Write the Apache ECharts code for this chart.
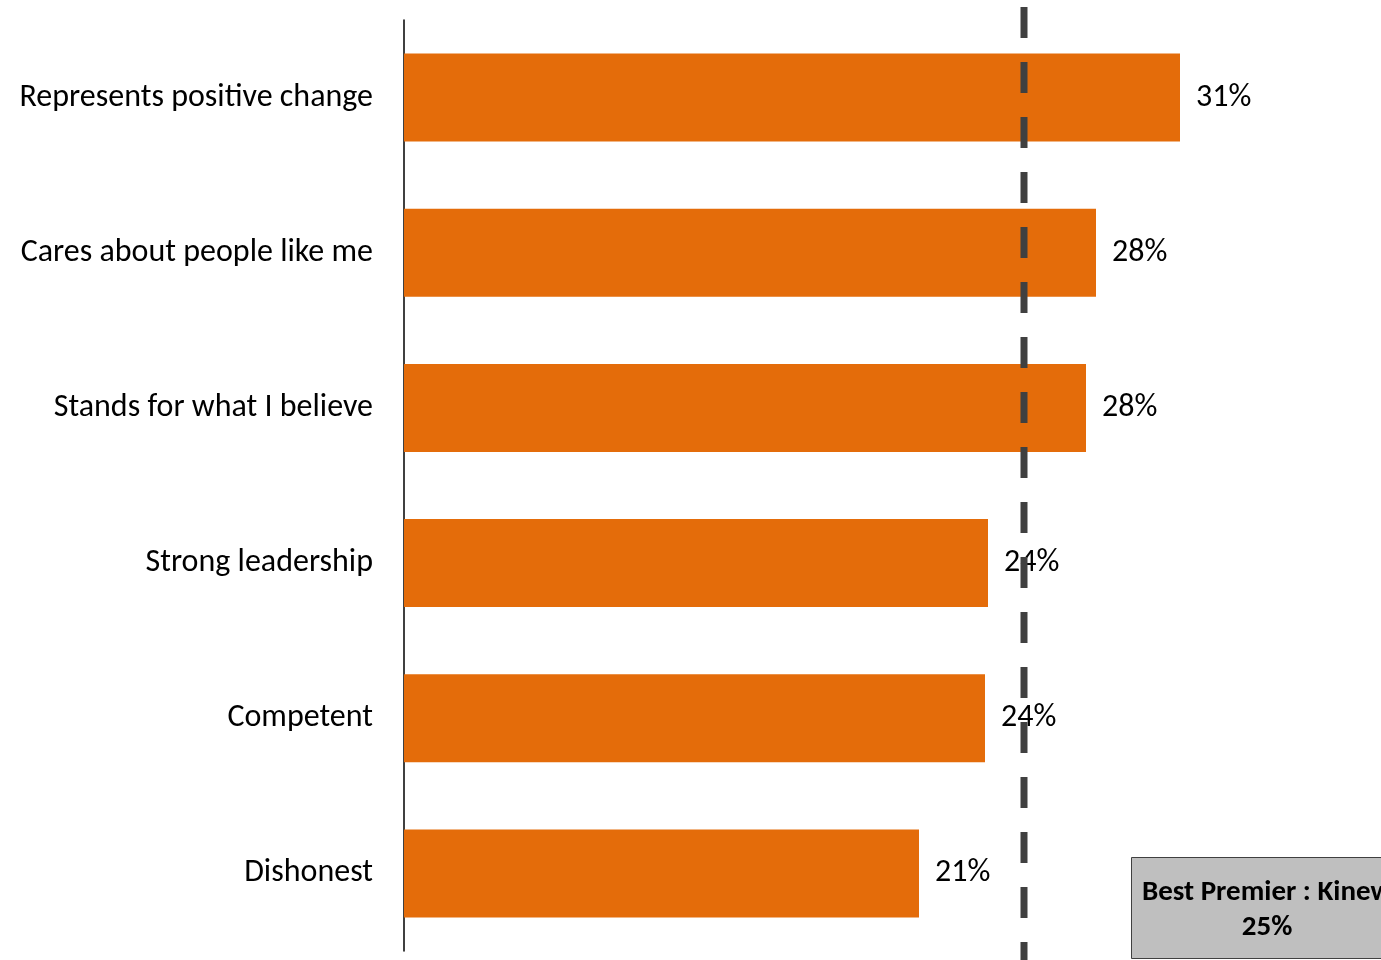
<!DOCTYPE html>
<html>
<head>
<meta charset="utf-8">
<script src="https://cdn.jsdelivr.net/npm/echarts@6/dist/echarts.min.js"></script>
<style>
html,body{margin:0;padding:0;background:#fff;}
#chart{width:1381px;height:960px;}
</style>
</head>
<body>
<div id="chart"></div>
<script>
const categories = ['Represents positive change','Cares about people like me','Stands for what I believe','Strong leadership','Competent','Dishonest'];
const values = [31.04, 27.68, 27.28, 23.36, 23.24, 20.6];
const valueLabels = ['31%','28%','28%','24%','24%','21%'];
const referenceValue = [24.8];
const referenceTitle = 'Best Premier : Kinew';
const referenceLabel = '25%';

const FONT = 'Carlito, Calibri, Lato, sans-serif';
const chart = echarts.init(document.getElementById('chart'));
chart.setOption({
  animation: false,
  grid: {left: 404, width: 975, top: 20, height: 931, containLabel: false},
  xAxis: {type: 'value', min: 0, max: 39, show: false},
  yAxis: {
    type: 'category', data: categories, inverse: true,
    axisLine: {show: true, lineStyle: {color: '#000', width: 1.5}},
    axisTick: {show: false},
    axisLabel: {color: '#000', fontSize: 32, fontFamily: FONT, margin: 31, padding: [8, 0, 0, 0]}
  },
  series: [
    {
      type: 'bar', data: values, barWidth: 88,
      itemStyle: {color: '#E46C0A'},
      label: {show: true, position: 'right', distance: 16, color: '#000', fontSize: 32, fontFamily: FONT,
        padding: [8, 0, 0, 0], formatter: p => valueLabels[p.dataIndex]}
    },
    {
      type: 'custom', data: referenceValue.map(v => [v, 0]), clip: false, z: 10,
      encode: {x: 0, y: 1},
      renderItem: (params, api) => {
        const x = api.coord([api.value(0), 0])[0];
        return {type: 'line', shape: {x1: x, y1: 7, x2: x, y2: 960},
          style: {stroke: '#404040', lineWidth: 7, lineDash: [31, 24]}};
      }
    }
  ],
  graphic: [
    {type: 'rect', left: 1131, top: 857, shape: {width: 270, height: 101}, z: 20,
      style: {fill: '#BFBFBF', stroke: '#404040', lineWidth: 1}},
    {type: 'text', x: 1267, y: 893, z: 21,
      style: {text: referenceTitle, fontSize: 29, fontWeight: 'bold', fontFamily: FONT, fill: '#000', align: 'center', verticalAlign: 'middle'}},
    {type: 'text', x: 1267, y: 928, z: 21,
      style: {text: referenceLabel, fontSize: 29, fontWeight: 'bold', fontFamily: FONT, fill: '#000', align: 'center', verticalAlign: 'middle'}}
  ]
});
</script>
</body>
</html>
